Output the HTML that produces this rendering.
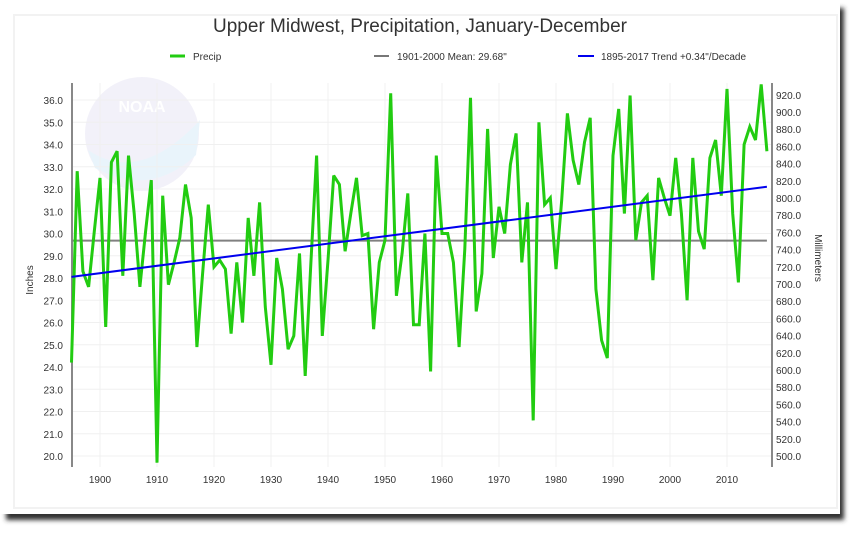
<!DOCTYPE html>
<html><head><meta charset="utf-8">
<style>
html,body{margin:0;padding:0;background:#fff;}
body{width:852px;height:532px;overflow:hidden;position:relative;font-family:"Liberation Sans",Arial,sans-serif;}
svg text{font-family:"Liberation Sans",Arial,sans-serif;}
</style></head>
<body>
<svg id="chart" width="852" height="532" viewBox="0 0 852 532" xmlns="http://www.w3.org/2000/svg">
  <defs><filter id="blur" x="-5%" y="-5%" width="110%" height="110%"><feGaussianBlur stdDeviation="2.5"/></filter></defs>
  <rect x="6" y="8" width="838" height="512" fill="#333" filter="url(#blur)"/>
  <rect x="0" y="0" width="840" height="514" fill="#fff"/>
  <rect x="14" y="15" width="823" height="493" fill="none" stroke="#f2f2f2" stroke-width="2"/>
  <g opacity="0.22">
    <circle cx="142" cy="134" r="57" fill="#c9c3e6"/>
    <path d="M88 150 Q140 185 200 120 L196 155 Q150 198 95 168 Z" fill="#9fd0f0"/>
    <text x="142" y="112" font-size="16" font-weight="bold" fill="#fff" text-anchor="middle">NOAA</text>
  </g>
  <text x="420" y="32" font-size="19" fill="#333" text-anchor="middle">Upper Midwest, Precipitation, January-December</text>
  <g id="grid"></g>
  <g id="axes"></g>
  <g id="series"></g>
  <g>
    <g>
      <line x1="170" y1="56" x2="185" y2="56" stroke="#22cc11" stroke-width="3"/>
      <text x="193" y="60" font-size="10" fill="#333">Precip</text>
    </g>
    <g>
      <line x1="374" y1="56" x2="389" y2="56" stroke="#777" stroke-width="2"/>
      <text x="397" y="60" font-size="10" fill="#333">1901-2000 Mean: 29.68"</text>
    </g>
    <g>
      <line x1="578" y1="56" x2="594" y2="56" stroke="#0000ee" stroke-width="2"/>
      <text x="601" y="60" font-size="10" fill="#333">1895-2017 Trend +0.34"/Decade</text>
    </g>
  </g>
  <text transform="translate(33,280) rotate(-90)" font-size="10" fill="#333" text-anchor="middle">Inches</text>
  <text transform="translate(815,258) rotate(90)" font-size="10" fill="#333" text-anchor="middle">Millimeters</text>
</svg>
<script>
const years = [];
for (let y = 1895; y <= 2017; y++) years.push(y);
const precip = [
24.2,32.8,28.3,27.6,30.1,32.5,25.8,33.2,33.7,28.1,
33.5,30.9,27.6,30.1,32.4,19.7,31.7,27.7,28.7,29.8,
32.2,30.7,24.9,28.2,31.3,28.5,28.8,28.4,25.5,28.7,
26.0,30.7,28.1,31.4,26.7,24.1,28.9,27.5,24.8,25.4,
29.1,23.6,28.7,33.5,25.4,28.8,32.6,32.2,29.2,30.9,
32.5,29.9,30.0,25.7,28.7,29.7,36.3,27.2,29.1,31.8,
25.9,25.9,30.0,23.8,33.5,30.0,30.0,28.7,24.9,29.3,
36.1,26.5,28.2,34.7,28.9,31.2,30.0,33.1,34.5,28.7,
31.4,21.6,35.0,31.3,31.6,28.4,31.5,35.4,33.3,32.2,
34.1,35.2,27.5,25.2,24.4,33.5,35.6,30.9,36.2,29.7,
31.4,31.7,27.9,32.5,31.6,30.8,33.4,30.9,27.0,33.4,
30.1,29.3,33.4,34.2,31.7,36.5,30.9,27.8,34.0,34.8,
34.2,36.7,33.7];
const meanValue = [29.68];
const trendEnds = [28.05, 32.1];
const leftTicks = [20,21,22,23,24,25,26,27,28,29,30,31,32,33,34,35,36];
const rightTicks = [500,520,540,560,580,600,620,640,660,680,700,720,740,760,780,800,820,840,860,880,900,920];
const xTicks = [1900,1910,1920,1930,1940,1950,1960,1970,1980,1990,2000,2010];

const NS = "http://www.w3.org/2000/svg";
const L = 72, R = 772, T = 83, B = 467;
function xs(yr){ return 100 + (yr - 1900) * 5.7; }
function ys(v){ return 456 - (v - 20) * 22.25; }
function ymm(mm){ return 456 - (mm - 500) * 0.86; }
function mk(tag, attrs, parent){
  const e = document.createElementNS(NS, tag);
  for (const k in attrs) e.setAttribute(k, attrs[k]);
  parent.appendChild(e); return e;
}
const grid = document.getElementById('grid');
const axes = document.getElementById('axes');
const series = document.getElementById('series');

leftTicks.forEach(v => {
  const g = mk('line', {x1:L, x2:R, y1:ys(v), y2:ys(v), stroke:'#f0f0f0', 'stroke-width':1}, grid);
  
  
  const t = mk('text', {x:63, y:ys(v)+4, 'font-size':10, fill:'#333', 'text-anchor':'end'}, axes);
  t.textContent = v.toFixed(1);
  
  
});
xTicks.forEach(yr => {
  const g = mk('line', {x1:xs(yr), x2:xs(yr), y1:T, y2:B, stroke:'#f0f0f0', 'stroke-width':1}, grid);
  
  
  const t = mk('text', {x:xs(yr), y:483, 'font-size':10, fill:'#333', 'text-anchor':'middle'}, axes);
  t.textContent = yr;
  
  
});
rightTicks.forEach(mm => {
  const t = mk('text', {x:776, y:ymm(mm)+4, 'font-size':10, fill:'#333'}, axes);
  t.textContent = mm.toFixed(1);
  
  
});
const la = mk('line', {x1:L, x2:L, y1:T, y2:B, stroke:'#888', 'stroke-width':2}, axes);


const ra = mk('line', {x1:R, x2:R, y1:T, y2:B, stroke:'#888', 'stroke-width':2}, axes);



const mean = mk('line', {x1:L, x2:xs(2017), y1:ys(meanValue[0]), y2:ys(meanValue[0]), stroke:'#808080', 'stroke-width':2}, series);



const pts = years.map((yr,i) => xs(yr).toFixed(1) + ',' + ys(precip[i]).toFixed(1)).join(' ');
const pl = mk('polyline', {points:pts, fill:'none', stroke:'#22cc11', 'stroke-width':3, 'stroke-linejoin':'miter', 'stroke-miterlimit':3}, series);



const tr = mk('line', {x1:xs(years[0]), x2:xs(years[years.length-1]), y1:ys(trendEnds[0]), y2:ys(trendEnds[1]), stroke:'#0000ee', 'stroke-width':2}, series);


</script>
</body></html>
